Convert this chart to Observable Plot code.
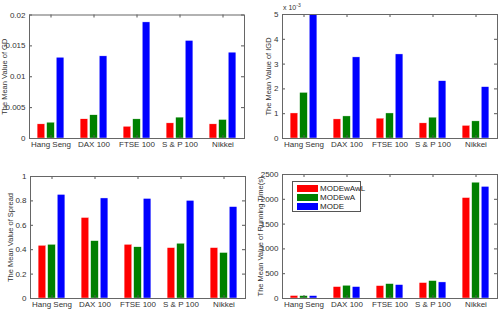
<!DOCTYPE html>
<html>
<head>
<meta charset="utf-8">
<script src="https://cdn.jsdelivr.net/npm/d3@7"></script>
<script src="https://cdn.jsdelivr.net/npm/@observablehq/plot@0.6"></script>
<style>
  html, body { margin: 0; padding: 0; background: #fff; }
  #fig { position: relative; width: 501px; height: 312px; overflow: hidden; font-family: "Liberation Sans", Arial, sans-serif; }
  .panel { position: absolute; }
  .exp { position: absolute; font-size: 7px; color: #333; }
  .exp sup { font-size: 5px; }
  .legend { position: absolute; border: 1px solid #555; background: #fff; box-sizing: border-box; }
  .legend .row { position: absolute; left: 4px; height: 9px; display: flex; align-items: center; }
  .legend .sw { width: 21px; height: 7px; margin-right: 2px; }
  .legend .lab { font-size: 8px; color: #222; line-height: 9px; }
</style>
</head>
<body>
<div id="fig"></div>
<script>
// Stock indices and the three optimisers compared on each of them
const indices = ["Hang Seng", "DAX 100", "FTSE 100", "S & P 100", "Nikkei"];
const algorithms = ["MODEwAwL", "MODEwA", "MODE"];
const colors = ["#ff0000", "#008000", "#0000ff"];

// Mean GD per algorithm (rows follow algorithms, columns follow indices)
const gd = [
  [0.00229, 0.00311, 0.00190, 0.00245, 0.00229],
  [0.00256, 0.00376, 0.00310, 0.00338, 0.00300],
  [0.01308, 0.01330, 0.01880, 0.01580, 0.01390]
];
// Mean IGD
const igd = [
  [0.00101, 0.00077, 0.00080, 0.00061, 0.00051],
  [0.00184, 0.00089, 0.00101, 0.00084, 0.00069],
  [0.00500, 0.00327, 0.00339, 0.00231, 0.00207]
];
// Mean Spread
const spread = [
  [0.432, 0.660, 0.440, 0.413, 0.413],
  [0.440, 0.470, 0.420, 0.449, 0.373],
  [0.849, 0.820, 0.816, 0.800, 0.749]
];
// Mean running time in seconds
const runtime = [
  [50, 230, 250, 311, 2025],
  [48, 257, 290, 351, 2335],
  [48, 230, 270, 324, 2250]
];

const gdTicks = [0, 0.005, 0.01, 0.015, 0.02];
const igdTicks = [0, 0.001, 0.002, 0.003, 0.004, 0.005];
const spreadTicks = [0, 0.2, 0.4, 0.6, 0.8, 1];
const runtimeTicks = [0, 500, 1000, 1500, 2000, 2500];

// Grouped bar layout in MATLAB style: group centred on the category index
const groupWidth = 0.667;
const barStep = groupWidth / algorithms.length;
const barWidth = barStep * 0.8;

function rowsOf(values) {
  const rows = [];
  indices.forEach((name, i) => {
    algorithms.forEach((alg, s) => {
      const c = i + 1 + (s - (algorithms.length - 1) / 2) * barStep;
      rows.push({index: name, alg, v: values[s][i], x1: c - barWidth / 2, x2: c + barWidth / 2});
    });
  });
  return rows;
}

function panel({values, ticks, format, label, margins, labelX}) {
  const W = 250, H = 156;
  const innerW = W - margins.left - margins.right;
  const innerH = H - margins.top - margins.bottom;
  const catTicks = indices.map((_, i) => i + 1);
  const tk = 3;
  return Plot.plot({
    width: W,
    height: H,
    marginTop: margins.top,
    marginRight: margins.right,
    marginBottom: margins.bottom,
    marginLeft: margins.left,
    style: {fontFamily: "Liberation Sans, Arial, sans-serif", fontSize: "8px", color: "#333", background: "transparent", overflow: "visible"},
    x: {type: "linear", domain: [0.5, indices.length + 0.5]},
    y: {domain: [ticks[0], ticks[ticks.length - 1]]},
    color: {domain: algorithms, range: colors},
    marks: [
      Plot.rectY(rowsOf(values), {x1: "x1", x2: "x2", y: "v", fill: "alg", stroke: "#fff", strokeWidth: 0.4}),
      // inward ticks on all four sides
      Plot.ruleX(catTicks, {x: d => d, insetTop: innerH - tk, stroke: "#555"}),
      Plot.ruleX(catTicks, {x: d => d, insetBottom: innerH - tk, stroke: "#555"}),
      Plot.ruleY(ticks, {y: d => d, insetRight: innerW - tk, stroke: "#555"}),
      Plot.ruleY(ticks, {y: d => d, insetLeft: innerW - tk, stroke: "#555"}),
      Plot.axisX(catTicks, {tickSize: 0, tickPadding: 3, tickFormat: d => indices[d - 1], label: null}),
      Plot.axisY(ticks, {tickSize: 0, tickPadding: 4, tickFormat: format, label: null}),
      // rotated y-axis title, centred on the plot area
      Plot.text([label], {frameAnchor: "left", rotate: -90, dx: labelX - margins.left, fontSize: 7.5, fill: "#333", textAnchor: "middle", lineAnchor: "middle"}),
      Plot.frame({stroke: "#666"})
    ]
  });
}

const fig = document.getElementById("fig");
function place(svg, left, top) {
  const d = document.createElement("div");
  d.className = "panel";
  d.style.left = left + "px";
  d.style.top = top + "px";
  d.appendChild(svg);
  fig.appendChild(d);
}

place(panel({values: gd, ticks: gdTicks, format: d => String(+d.toFixed(3)), label: "The Mean Value of GD",
  margins: {top: 14.5, right: 6, bottom: 18, left: 29}, labelX: 4}), 0, 0);
place(panel({values: igd, ticks: igdTicks, format: d => String(Math.round(d * 1000)), label: "The Mean Value of IGD",
  margins: {top: 14, right: 3, bottom: 18, left: 32}, labelX: 18.5}), 250, 0);
place(panel({values: spread, ticks: spreadTicks, format: d => String(+d.toFixed(1)), label: "The Mean Value of Spread",
  margins: {top: 20, right: 5, bottom: 14, left: 30}, labelX: 10.5}), 0, 156);
place(panel({values: runtime, ticks: runtimeTicks, format: d => String(d), label: "The Mean Value of Running Time(s)",
  margins: {top: 18, right: 3, bottom: 14, left: 32}, labelX: 10.5}), 250, 156);

// exponent note for the IGD axis
const exp = document.createElement("div");
exp.className = "exp";
exp.style.left = "283px";
exp.style.top = "2px";
exp.innerHTML = "x 10<sup>-3</sup>";
fig.appendChild(exp);

// legend inside the running-time panel
const legend = document.createElement("div");
legend.className = "legend";
legend.style.left = "292px";
legend.style.top = "181px";
legend.style.width = "69px";
legend.style.height = "31px";
algorithms.forEach((alg, s) => {
  const row = document.createElement("div");
  row.className = "row";
  row.style.top = (1.5 + s * 9.2) + "px";
  row.innerHTML = `<div class="sw" style="background:${colors[s]}"></div><span class="lab">${alg}</span>`;
  legend.appendChild(row);
});
fig.appendChild(legend);
</script>
</body>
</html>
